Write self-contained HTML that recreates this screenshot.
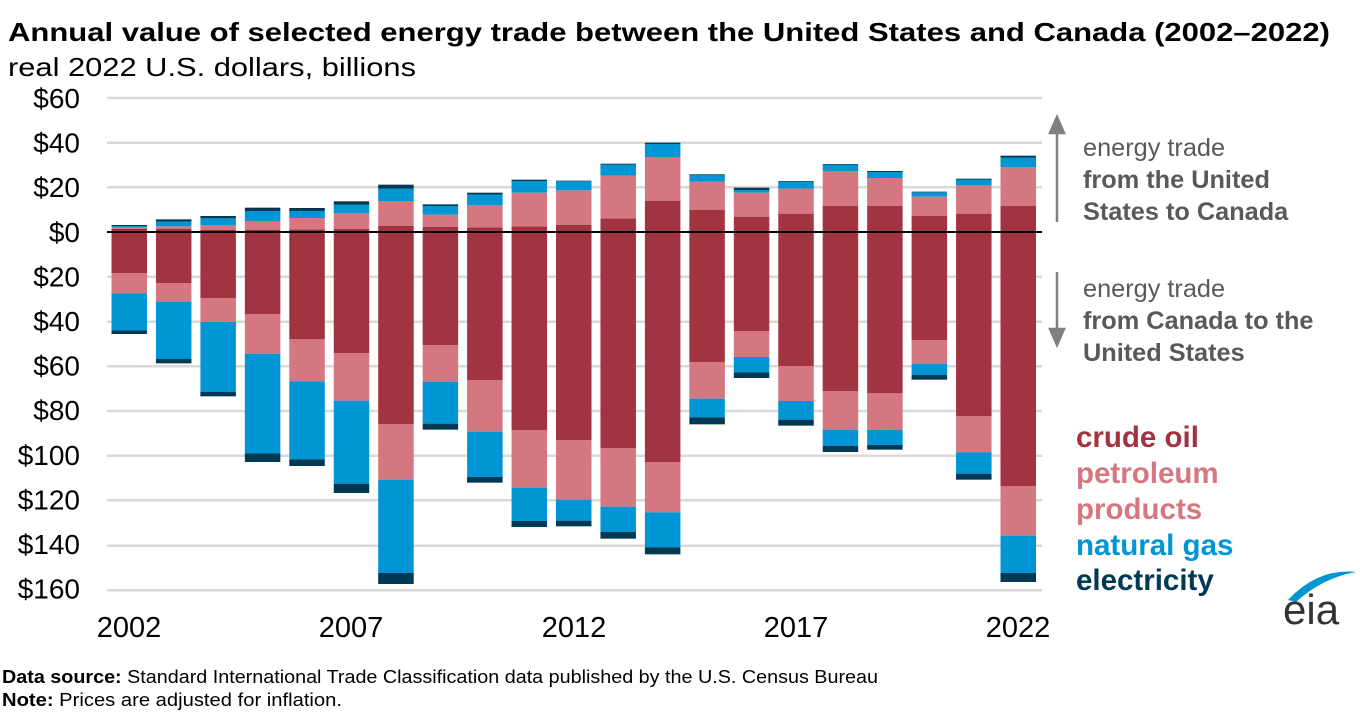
<!DOCTYPE html>
<html><head><meta charset="utf-8"><style>
body{margin:0;background:#fff;width:1360px;height:714px;overflow:hidden;font-family:"Liberation Sans",Arial,sans-serif}
</style></head><body>
<svg id="s" width="1360" height="714" xmlns="http://www.w3.org/2000/svg" font-family="Liberation Sans, Arial, sans-serif">
<text x="8" y="41" font-size="26" font-weight="bold" fill="#000" textLength="1322" lengthAdjust="spacingAndGlyphs">Annual value of selected energy trade between the United States and Canada (2002–2022)</text>
<text x="8" y="76" font-size="26" fill="#000" textLength="408" lengthAdjust="spacingAndGlyphs">real 2022 U.S. dollars, billions</text>
<g id="grid" stroke="#d9d9d9" stroke-width="2.5"></g>
<g id="ylab" font-size="28" fill="#000" text-anchor="end"></g>
<g id="bars"></g>
<line x1="107" x2="1042" y1="232" y2="232" stroke="#000" stroke-width="2"/>
<g font-size="29" fill="#000" text-anchor="middle">
<text x="129" y="637">2002</text><text x="351" y="637">2007</text><text x="574" y="637">2012</text><text x="796" y="637">2017</text><text x="1018" y="637">2022</text>
</g>
<g stroke="#7f7f7f" stroke-width="2.5" fill="#7f7f7f">
<line x1="1057" y1="130" x2="1057" y2="222"/><polygon points="1050,133 1064,133 1057,117"/>
<line x1="1057" y1="272" x2="1057" y2="332"/><polygon points="1050,329 1064,329 1057,345"/>
</g>
<g font-size="25.3" fill="#595959">
<text x="1083" y="156">energy trade</text>
<text x="1083" y="188" font-weight="bold">from the United</text>
<text x="1083" y="220" font-weight="bold">States to Canada</text>
<text x="1083" y="297">energy trade</text>
<text x="1083" y="329" font-weight="bold">from Canada to the</text>
<text x="1083" y="361" font-weight="bold">United States</text>
</g>
<g font-size="29.5" font-weight="bold">
<text x="1076" y="447" fill="#a23340">crude oil</text>
<text x="1076" y="483" fill="#d57780">petroleum</text>
<text x="1076" y="519" fill="#d57780">products</text>
<text x="1076" y="555" fill="#0096d6">natural gas</text>
<text x="1076" y="590" fill="#003953">electricity</text>
</g>
<path d="M1288,600 Q1318,568 1356,572 Q1322,578 1296,602 Z" fill="#0096d6"/>
<text x="1283" y="624" font-size="42" fill="#333">eia</text>
<text x="2" y="683" font-size="18" fill="#000" textLength="876" lengthAdjust="spacingAndGlyphs"><tspan font-weight="bold">Data source:</tspan> Standard International Trade Classification data published by the U.S. Census Bureau</text>
<text x="2" y="706" font-size="18" fill="#000" textLength="340" lengthAdjust="spacingAndGlyphs"><tspan font-weight="bold">Note:</tspan> Prices are adjusted for inflation.</text>
</svg>
<script>
var ns="http://www.w3.org/2000/svg";
function el(p,t,a){var e=document.createElementNS(ns,t);for(var k in a)e.setAttribute(k,a[k]);document.getElementById(p).appendChild(e);return e;}
var gy=[98,142.7,187.3,276.7,321.7,366.3,411,455.7,500.3,545.7,590.3];
gy.forEach(function(y){el("grid","line",{x1:107,x2:1042,y1:y,y2:y});});
var labs=["$60","$40","$20","$0","$20","$40","$60","$80","$100","$120","$140","$160"];
for(var i=0;i<12;i++){var t=el("ylab","text",{x:80,y:98+i*44.6+10});t.textContent=labs[i];}
var up=[[296,292,288,285],[296,289,275,268],[300,286,265,258],[299,273,243,233],[298,264,243,234],[296,250,224,214],[287,213,176,164],[290,254,228,223],[292,226,194,188],[289,188,153,149],
[284,181,154,152],[265,137,104,101],[212,81,42,38],[239,155,136,133],[260,188,180,173],[251,176,155,153],[228,123,104,102],[228,144,126,123],[258,200,187,185],[251,166,149,146],[228,112,83,77]];
var dn=[[429,490,601,612],[459,515,687,700],[504,576,786,799],[552,671,970,996],[628,754,988,1008],[669,812,1061,1089],[883,1049,1329,1362],[645,755,881,899],[750,905,1041,1058],[900,1073,1173,1191],
[930,1109,1172,1189],[954,1130,1206,1226],[996,1147,1252,1273],[696,806,862,883],[603,681,727,744],[708,813,869,887],[783,899,948,966],[790,900,945,959],[630,701,735,749],[858,967,1031,1049],[1068,1217,1329,1356]];
var col=["#a23340","#d57780","#0096d6","#003953"];
function Y(z){return 130+z/3;}
for(var i=0;i<21;i++){var x=111.5+44.45*i;var prev=306;
 for(var k=0;k<4;k++){var a=Y(up[i][k]),b=Y(prev);if(b-a>0)el("bars","rect",{x:x,y:a,width:35.5,height:b-a,fill:col[k]});prev=up[i][k];}
 prev=306;
 for(var k=0;k<4;k++){var a=Y(prev),b=Y(dn[i][k]);if(b-a>0)el("bars","rect",{x:x,y:a,width:35.5,height:b-a,fill:col[k]});prev=dn[i][k];}
}
</script>
</body></html>
